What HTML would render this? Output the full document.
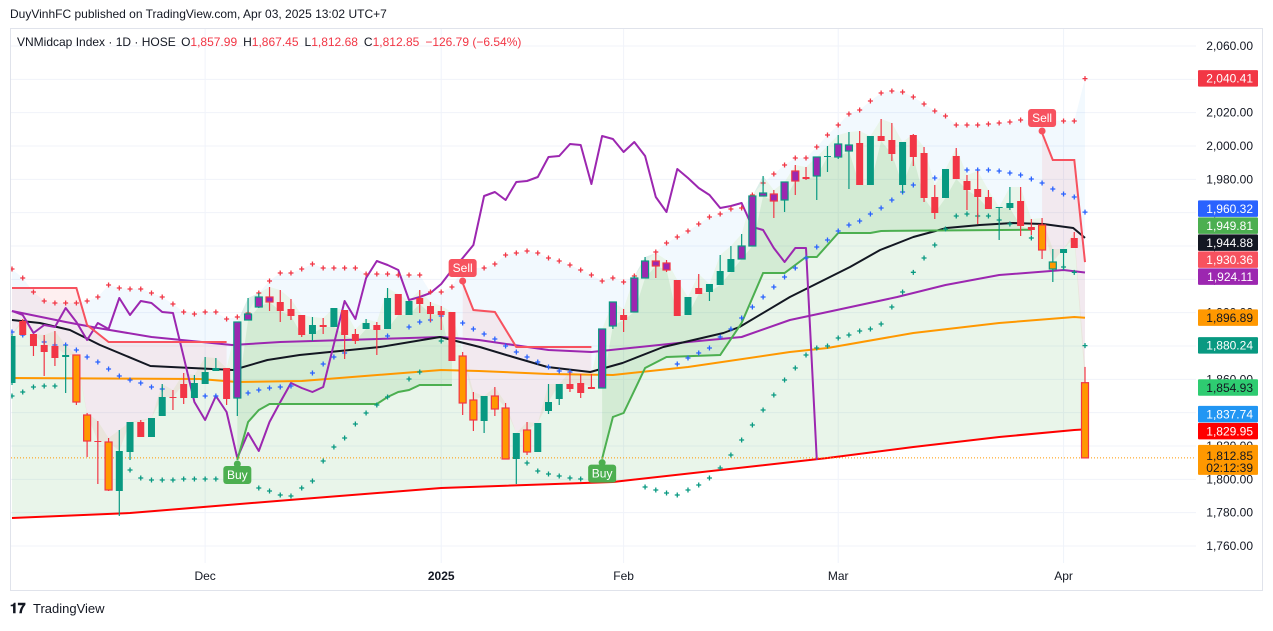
<!DOCTYPE html>
<html><head><meta charset="utf-8">
<style>
html,body{margin:0;padding:0;background:#fff;}
body{width:1273px;height:626px;overflow:hidden;font-family:"Liberation Sans",sans-serif;}
svg text{font-family:"Liberation Sans",sans-serif;}
</style></head>
<body>
<svg id="chart" width="1273" height="626" viewBox="0 0 1273 626" xmlns="http://www.w3.org/2000/svg">
  <text x="10" y="18" font-size="12" fill="#131722">DuyVinhFC published on TradingView.com, Apr 03, 2025 13:02 UTC+7</text>
  <rect x="10.5" y="28.5" width="1252" height="562" fill="#fff" stroke="#e0e3eb"/>
  <defs><clipPath id="pane"><rect x="11" y="29" width="1185" height="534"/></clipPath></defs>
  <g id="grid"></g>
  <g id="plot" clip-path="url(#pane)"></g>
  <g id="axis"></g>
  <g id="taxis"></g>
  <text x="17" y="46" font-size="12" fill="#131722">VNMidcap Index · 1D · HOSE <tspan dx="2">O</tspan><tspan fill="#f23645">1,857.99</tspan><tspan dx="6">H</tspan><tspan fill="#f23645">1,867.45</tspan><tspan dx="6">L</tspan><tspan fill="#f23645">1,812.68</tspan><tspan dx="6">C</tspan><tspan fill="#f23645">1,812.85</tspan><tspan dx="6" fill="#f23645">−126.79 (−6.54%)</tspan></text>
  <g>
    <text x="10" y="613" font-size="14" font-weight="bold" fill="#131722">𝟏𝟕</text>
    <text x="33" y="613" font-size="13" fill="#131722">TradingView</text>
  </g>
</svg>
<script>
const opens=[1857.8,1895.0,1887.2,1880.6,1880.0,1873.4,1874.6,1838.6,1823.0,1822.4,1793.0,1816.4,1834.4,1825.4,1838.0,1849.4,1857.2,1848.8,1857.2,1865.0,1866.8,1848.8,1895.6,1903.4,1909.4,1906.4,1902.2,1898.6,1887.2,1892.6,1891.4,1901.6,1887.2,1890.2,1892.6,1890.2,1911.2,1898.6,1908.8,1904.0,1901.0,1900.4,1874.0,1847.6,1835.0,1850.0,1842.8,1812.2,1829.6,1816.4,1841.0,1848.2,1857.2,1857.8,1855.4,1854.8,1892.0,1898.6,1900.4,1920.8,1931.0,1929.8,1919.6,1898.6,1914.8,1912.4,1916.6,1924.4,1932.2,1940.0,1970.0,1971.2,1967.6,1985.0,1981.4,1982.0,1993.4,1993.4,1997.0,2001.8,1976.6,2006.0,2003.6,1976.6,2006.6,1995.8,1969.4,1968.8,1994.0,1979.0,1974.2,1969.4,1962.8,1962.8,1967.0,1951.4,1952.6,1926.2,1935.8,1944.8,1857.99];
const highs=[1887.2,1896.2,1887.2,1886.6,1889.0,1880.6,1874.6,1839.8,1835.0,1824.8,1829.6,1834.4,1835.6,1836.8,1857.2,1853.6,1863.8,1862.6,1873.4,1872.8,1866.8,1894.4,1908.8,1911.8,1915.4,1913.6,1908.2,1898.6,1897.4,1896.8,1902.8,1901.6,1890.2,1896.2,1894.4,1914.8,1911.2,1907.0,1913.6,1906.4,1904.0,1900.4,1876.4,1852.4,1850.0,1855.4,1845.8,1827.8,1834.4,1833.8,1857.2,1857.2,1864.4,1863.2,1863.2,1890.2,1906.4,1902.2,1922.0,1933.4,1935.8,1931.6,1919.6,1909.4,1923.2,1917.2,1934.6,1940.0,1947.2,1970.0,1982.0,1973.6,1978.4,1988.6,1987.4,1993.4,2000.0,2006.6,2008.4,2009.0,2006.0,2016.2,2013.8,2002.4,2007.2,1999.4,1976.6,1986.2,1998.8,1982.6,1985.0,1973.6,1963.4,1975.4,1975.4,1956.2,1956.8,1938.2,1938.2,1948.4,1867.45];
const lows=[1856.6,1886.6,1874.0,1862.0,1868.0,1851.8,1844.6,1813.4,1797.2,1793.0,1778.0,1811.6,1825.4,1825.4,1838.0,1841.6,1845.2,1848.8,1857.2,1865.0,1844.6,1838.0,1895.6,1902.8,1901.0,1894.4,1895.6,1885.4,1883.0,1887.2,1891.4,1872.2,1881.2,1890.2,1874.6,1890.2,1898.6,1898.6,1899.8,1894.4,1889.6,1871.0,1838.6,1829.0,1827.8,1838.0,1812.2,1797.2,1814.6,1816.4,1839.2,1844.6,1852.4,1848.8,1854.2,1854.8,1890.2,1888.4,1900.4,1920.8,1920.8,1924.4,1898.0,1898.6,1911.2,1907.0,1916.6,1924.4,1932.2,1940.0,1970.0,1956.8,1960.4,1970.6,1979.6,1967.6,1984.4,1992.2,1974.2,1976.6,1976.6,2003.0,1991.0,1971.8,1988.0,1966.4,1956.2,1968.8,1980.2,1961.6,1953.2,1962.2,1943.6,1961.6,1946.0,1946.6,1932.2,1918.4,1925.6,1938.8,1812.68];
const closes=[1886.0,1886.6,1880.0,1876.4,1872.8,1874.6,1846.4,1823.0,1822.4,1793.6,1817.0,1834.4,1825.4,1836.8,1849.4,1848.8,1848.8,1857.8,1864.4,1866.8,1848.2,1894.4,1899.2,1909.4,1906.4,1901.0,1898.0,1886.6,1892.6,1891.4,1902.8,1886.6,1883.0,1893.8,1889.6,1908.8,1898.6,1907.0,1905.2,1899.2,1898.6,1871.0,1845.8,1835.6,1850.0,1842.2,1812.2,1827.8,1816.4,1833.8,1846.4,1857.2,1854.2,1851.8,1854.2,1890.2,1906.4,1895.6,1920.8,1931.0,1928.0,1925.6,1898.0,1909.4,1911.2,1917.2,1925.0,1932.2,1940.0,1970.0,1971.8,1967.0,1978.4,1979.0,1980.2,1993.4,1994.0,2001.2,2000.6,1976.6,2006.0,2003.0,1995.2,2002.4,1993.4,1968.8,1959.8,1986.2,1980.2,1973.6,1969.4,1962.2,1963.4,1965.8,1952.0,1949.6,1937.6,1930.4,1938.2,1938.8,1812.85];
const barTypes=("grrrrgooro"+"ggrggrrggg"+"rpppprrrgr"+"grrgrgrgrr"+"rroogoogog"+"ggrrrpprpp"+"pprgrgggpp"+"pppprpgppr"+"grrgrrrgrr"+"rrggrroogr"+"o").split("");

const ma200Idx=[0,11,27,40,56,76,84,92,99,100];
const ma200Val=[1776.8,1779.8,1788.2,1794.8,1798.4,1812.8,1819.4,1825.4,1829.6,1829.95];
const ma100Idx=[0,17.5,21,27,40,43.5,50,56,63,72.5,76,84,92,99,100];
const ma100Val=[1860.8,1860.2,1858.4,1859.0,1865.6,1865.0,1863.2,1862.6,1867.4,1876.4,1878.8,1887.8,1893.8,1897.4,1896.89];
const ma50Idx=[0,5,8,13,20.5,25,40,43.5,50,54,63,68,72.5,76,82.5,87,92,98,100];
const ma50Val=[1901.0,1894.4,1890.8,1885.4,1880.6,1882.4,1885.4,1883.6,1877.6,1876.4,1882.4,1885.4,1895.6,1900.4,1909.4,1916.6,1922.6,1925.6,1924.11];
const ma20Idx=[0,2.6,5.4,8.2,12.9,20.6,23.8,26.8,34.3,39.9,43.6,46.7,49.9,53.9,56.9,60.7,66.3,67.8,72.5,78.1,80.9,84,87.1,90.2,93.3,96.1,98.9,100];
const ma20Val=[1895.6,1893.8,1889.6,1880.6,1868.0,1865.6,1871.6,1874.6,1879.4,1885.4,1879.4,1873.4,1867.4,1864.4,1869.8,1879.4,1887.8,1891.4,1909.4,1927.4,1937.6,1945.4,1950.8,1952.6,1953.8,1953.2,1950.8,1944.88];
const oscVal=[1901.0,1898.6,1887.8,1892.6,1891.4,1902.8,1894.4,1883.6,1893.8,1890.2,1908.8,1898.6,1907.0,1905.8,1900.4,1899.8,1873.4,1846.4,1835.6,1850.0,1840.4,1812.8,1827.8,1817.0,1834.4,1846.4,1857.8,1854.8,1852.4,1855.4,1881.2,1907.0,1896.2,1920.8,1931.0,1928.6,1925.6,1907.6,1909.4,1911.8,1917.2,1925.6,1932.8,1940.6,1970.0,1972.4,1967.6,1978.4,1979.0,1981.4,1993.4,1994.0,2001.2,2000.6,1977.2,2006.0,2004.2,1996.4,2002.4,1994.0,1969.4,1960.4,1986.2,1980.8,1974.8,1970.6,1962.8,1964.0,1965.8,1951.4,1949.6,1938.8,1930.4,1938.8,1938.8,1811.6];
const stDownSegs=[{idx:[0,6,7,9,20],val:[1914.8,1914.8,1892.6,1882.4,1882.4]},{idx:[42,43,45,47,54],val:[1917.8,1901.6,1900.4,1879.4,1879.4]},{idx:[96,97,99,100],val:[2007.8,1991.6,1991.6,1930.36]}];
const stUpSegs=[{idx:[21,22,23,24,34,35,36,37,38,41],val:[1811.6,1834.4,1841.6,1845.2,1845.2,1849.4,1852.4,1853.6,1856.6,1856.6]},{idx:[55,56,57,59,61,66,68,70,72,74,75,77,80,81,95],val:[1812.4,1837.4,1839.8,1866.8,1873.4,1874.6,1893.8,1923.8,1923.8,1933.4,1933.4,1947.8,1947.8,1949.0,1949.81]}];
const sarUpper=[1926.2,1920.8,1912.4,1907.0,1905.8,1905.8,1905.8,1907.0,1909.4,1916.6,1914.8,1914.2,1914.2,1911.8,1909.4,1905.2,1900.4,1899.2,1900.4,1900.4,1896.2,1897.4,1899.8,1911.8,1919.0,1923.8,1923.8,1926.2,1929.2,1926.8,1926.8,1926.8,1926.8,1923.2,1923.2,1923.2,1922.6,1922.6,1922.6,1912.4,1912.4,1915.4,null,null,1926.8,1929.2,1934.6,1935.8,1937.0,1935.8,1932.8,1931.0,1928.6,1925.6,1922.6,1919.0,1920.8,1918.4,1922.0,1930.4,1936.4,1941.8,1945.4,1949.0,1953.2,1957.4,1959.2,1962.2,1962.8,1970.6,1977.8,1983.2,1988.6,1992.8,1992.8,1999.4,2006.6,2012.6,2019.2,2021.6,2027.0,2031.8,2033.0,2032.4,2029.4,2025.2,2021.0,2018.0,2012.6,2012.6,2012.6,2013.2,2013.8,2014.4,2015.6,null,null,null,2015.0,2015.0,2040.41];
const blueIdx=[0,1,3,4,5,6,7,8,9,10,11,12,13,14,18,19,22,23,24,25,26,28,29,30,31,35,37,38,39,40,42,43,44,45,46,47,48,49,50,51,52,62,63,64,65,66,67,68,69,70,71,72,73,74,75,76,77,78,79,80,81,82,83,84,85,86,87,88,89,90,91,92,93,94,95,96,97,98,99,100];
const blueVal=[1888.4,1886.6,1882.4,1880.6,1880.6,1877.6,1873.4,1870.4,1866.2,1862.0,1859.6,1857.8,1855.4,1854.2,1850.0,1850.0,1851.8,1853.6,1854.8,1855.4,1856.0,1863.8,1869.2,1873.4,1875.8,1886.0,1891.4,1894.4,1895.6,1898.0,1893.8,1890.2,1887.2,1884.2,1880.0,1876.4,1873.4,1870.4,1867.4,1865.0,1864.4,1869.2,1872.8,1875.8,1878.8,1885.4,1890.2,1896.8,1903.4,1909.4,1915.4,1921.4,1926.8,1932.8,1939.4,1943.6,1949.0,1952.6,1955.0,1959.2,1962.8,1967.6,1972.4,1976.6,1979.0,1980.8,1982.6,1984.4,1985.6,1985.6,1985.6,1985.0,1983.8,1982.6,1980.2,1977.8,1974.2,1971.2,1969.4,1960.32];
const tealIdx=[0,1,2,3,4,11,12,13,14,15,16,17,18,19,23,24,25,26,27,28,29,30,31,32,33,34,35,37,38,40,48,49,50,51,52,53,59,60,61,62,63,64,65,66,67,68,69,70,71,72,73,74,75,76,77,78,79,80,81,82,83,84,85,86,87,88,89,90,91,92,93,95,98,99,100];
const tealVal=[1850.0,1852.4,1855.4,1856.0,1856.0,1805.6,1800.8,1799.6,1799.6,1799.6,1800.2,1800.2,1800.2,1800.2,1794.8,1793.0,1790.6,1790.0,1794.8,1799.0,1811.0,1819.4,1824.8,1833.2,1839.8,1844.6,1849.4,1860.2,1864.4,1883.0,1809.8,1805.0,1803.2,1802.0,1800.8,1800.2,1795.4,1793.6,1791.8,1790.6,1793.6,1796.6,1800.8,1806.8,1814.6,1823.6,1832.6,1841.6,1850.6,1859.6,1866.8,1874.6,1878.8,1880.0,1884.8,1886.6,1889.0,1890.2,1893.2,1903.4,1912.4,1924.2,1932.8,1940.6,1950.2,1958.0,1959.2,1958.0,1958.0,1955.6,1953.2,1944.8,1927.4,1924.2,1880.24];
const priceTicks=[2060,2040,2020,2000,1980,1960,1940,1920,1900,1880,1860,1840,1820,1800,1780,1760];
const timeLabels=["Dec","2025","Feb","Mar","Apr"];
const timeIdx=[18,40,57,77,98];
const lastLabels=[2040.41,1960.32,1949.81,1944.88,1930.36,1924.11,1896.89,1880.24,1854.93,1837.74,1829.95];
const lastLabelColors=["#f23645","#2962ff","#4caf50","#131722","#f7525f","#9c27b0","#ff9800","#089981","#2ecc71","#2196f3","#ff0000"];
const lastPrice=1812.85;
const countdown="02:12:39";

const NS="http://www.w3.org/2000/svg";
const X0=12, DX=10.73, PTOP=2060, PBOT=1760, YTOP=46, YBOT=546;
function xs(i){return X0+i*DX;}
function ys(p){return YTOP+(PTOP-p)*(YBOT-YTOP)/(PTOP-PBOT);}
function el(tag,attrs,parent){const e=document.createElementNS(NS,tag);for(const k in attrs)e.setAttribute(k,attrs[k]);parent.appendChild(e);return e;}
function fmt(v){return v.toLocaleString("en-US",{minimumFractionDigits:2,maximumFractionDigits:2});}
const grid=document.getElementById("grid"), plot=document.getElementById("plot"), axis=document.getElementById("axis"), taxis=document.getElementById("taxis");

// grid
priceTicks.forEach(p=>{
  const l=el("line",{x1:11,x2:1196,y1:ys(p),y2:ys(p),stroke:"#f0f3fa","stroke-width":1},grid);
  
  
});
timeIdx.forEach(i=>{
  const l=el("line",{x1:xs(i),x2:xs(i),y1:29,y2:563,stroke:"#f0f3fa","stroke-width":1},grid);
  
  
});

function pathOf(idx,val){return idx.map((i,k)=>(k?"L":"M")+xs(i).toFixed(1)+","+ys(val[k]).toFixed(1)).join("");}
const N=closes.length;
const allIdx=[...Array(N).keys()];

// fills: blue above price (under SAR), pale green below price (to ma200)
let sarFilled=sarUpper.slice();
for(let i=0;i<N;i++){if(sarFilled[i]==null){let j=i;while(j<N&&sarFilled[j]==null)j++;sarFilled[i]=j<N?Math.max(sarFilled[i-1],sarFilled[j]):sarFilled[i-1];}}
let d="M"+xs(0)+","+ys(sarFilled[0]);
for(let i=1;i<N;i++)d+="L"+xs(i)+","+ys(sarFilled[i]);
for(let i=N-1;i>=0;i--)d+="L"+xs(i)+","+ys(highs[i]);
const fb=el("path",{d:d+"Z",fill:"rgba(33,150,243,0.06)"},plot);


function interp(idx,val,i){for(let k=0;k<idx.length-1;k++){if(i>=idx[k]&&i<=idx[k+1]){const t=(i-idx[k])/(idx[k+1]-idx[k]);return val[k]+t*(val[k+1]-val[k]);}}return i<idx[0]?val[0]:val[val.length-1];}
d="M"+xs(0)+","+ys(highs[0]);
for(let i=1;i<N;i++)d+="L"+xs(i)+","+ys(highs[i]);
for(let i=N-1;i>=0;i--)d+="L"+xs(i)+","+ys(interp(ma200Idx,ma200Val,i));
const fg=el("path",{d:d+"Z",fill:"rgba(76,175,80,0.12)"},plot);



// supertrend fills
stDownSegs.forEach(s=>{
  let dd=pathOf(s.idx,s.val);
  for(let i=s.idx[s.idx.length-1];i>=s.idx[0];i--)dd+="L"+xs(i)+","+ys(Math.max(opens[i],closes[i]));
  const f=el("path",{d:dd+"Z",fill:"rgba(242,54,69,0.08)"},plot);
  
  
});
stUpSegs.forEach(s=>{
  let dd=pathOf(s.idx,s.val);
  for(let i=s.idx[s.idx.length-1];i>=s.idx[0];i--)dd+="L"+xs(i)+","+ys(Math.min(opens[i],closes[i]));
  const f=el("path",{d:dd+"Z",fill:"rgba(76,175,80,0.14)"},plot);
  
  
});

// moving averages
[[ma200Idx,ma200Val,"#ff0000",2,"ma200-line"],[ma100Idx,ma100Val,"#ff9800",2,"ma100-line"],[ma50Idx,ma50Val,"#9c27b0",2,"ma50-line"],[ma20Idx,ma20Val,"#131722",2,"ma20-line"]].forEach(m=>{
  const p=el("path",{d:pathOf(m[0],m[1]),fill:"none",stroke:m[2],"stroke-width":m[3],"stroke-linejoin":"round"},plot);
  
  
});
// oscillator zigzag line
const op=el("path",{d:pathOf(oscVal.map((v,i)=>i),oscVal),fill:"none",stroke:"#9c27b0","stroke-width":2,"stroke-linejoin":"round"},plot);


// supertrend lines
stDownSegs.forEach(s=>{
  const p=el("path",{d:pathOf(s.idx,s.val),fill:"none",stroke:"#f7525f","stroke-width":2},plot);
  
  
});
stUpSegs.forEach(s=>{
  const p=el("path",{d:pathOf(s.idx,s.val),fill:"none",stroke:"#4caf50","stroke-width":2},plot);
  
  
});

// dots
function cross(x,y,c,name){
  const g=el("path",{d:`M${x-2.5},${y}h5M${x},${y-2.5}v5`,stroke:c,"stroke-width":1.3},plot);
  
  
}
sarUpper.forEach((v,i)=>{if(v!=null)cross(xs(i),ys(v),"#f23645","sar-dot-upper");});
blueIdx.forEach((i,k)=>cross(xs(i),ys(blueVal[k]),"#2962ff","sar-dot-mid"));
tealIdx.forEach((i,k)=>cross(xs(i),ys(tealVal[k]),"#089981","sar-dot-lower"));

// last price dotted line
const lp=el("line",{x1:11,x2:1196,y1:ys(lastPrice),y2:ys(lastPrice),stroke:"#ff9800","stroke-width":1,"stroke-dasharray":"1 2"},plot);



// candles
for(let i=0;i<N;i++){
  const o=opens[i],c=closes[i],up=c>=o,t=barTypes[i];
  const edge=up?"#089981":"#f23645";
  let fill=edge; if(t==="o")fill="#ff9800"; if(t==="p")fill="#9c27b0";
  const x=xs(i);
  const w=el("line",{x1:x,x2:x,y1:ys(highs[i]),y2:ys(lows[i]),stroke:edge,"stroke-width":1.2},plot);
  
  
  const top=ys(Math.max(o,c)), bot=ys(Math.min(o,c));
  const b=el("rect",{x:x-3.5,y:top,width:7,height:Math.max(1,bot-top),fill:fill,stroke:edge,"stroke-width":(t==="o"||t==="p")?1.2:0},plot);
  
  
}

// buy / sell markers
function marker(i,p,txt,color,below){
  const x=xs(i),y=ys(p);
  const g=el("g",{},plot);
  
  
  const by=below?y+6:y-24;
  el("circle",{cx:x,cy:below?y+4:y-2,r:3.5,fill:color},g);
  el("rect",{x:x-14,y:by,width:28,height:18,rx:3,fill:color},g);
  const t=el("text",{x:x,y:by+13,"font-size":12,fill:"#fff","text-anchor":"middle"},g);
  t.textContent=txt;
}
stUpSegs.forEach(s=>marker(s.idx[0],s.val[0],"Buy","#4caf50",true));
stDownSegs.slice(1).forEach(s=>marker(s.idx[0],s.val[0],"Sell","#f7525f",false));

// price axis
priceTicks.forEach(p=>{
  const t=el("text",{x:1253,y:ys(p)+4,"font-size":12,fill:"#131722","text-anchor":"end"},axis);
  
  
  t.textContent=fmt(p);
});
// last value labels with collision layout
const H=17;
let items=lastLabels.map((v,k)=>({v,c:lastLabelColors[k],y:ys(v)})).sort((a,b)=>a.y-b.y);
let groups=items.map(it=>({items:[it],mean:it.y}));
let changed=true;
while(changed){changed=false;
  for(let g=0;g<groups.length-1;g++){
    const A=groups[g],B=groups[g+1];
    const aBot=A.mean+A.items.length*H/2, bTop=B.mean-B.items.length*H/2;
    if(aBot>bTop){const its=A.items.concat(B.items);groups.splice(g,2,{items:its,mean:its.reduce((s,x)=>s+x.y,0)/its.length});changed=true;break;}
  }
}
groups.forEach(G=>{G.items.forEach((it,k)=>{it.py=G.mean-G.items.length*H/2+k*H+H/2;});});
items.forEach(it=>{
  const g=el("g",{},axis);
  
  
  el("rect",{x:1198,y:it.py-H/2,width:60,height:H-0.5,rx:1,fill:it.c},g);
  const dark=(it.c==="#ff9800"||it.c==="#2ecc71");
  const t=el("text",{x:1253,y:it.py+4,"font-size":12,fill:dark?"#131722":"#fff","text-anchor":"end"},g);
  t.textContent=fmt(it.v);
});
const lg=el("g",{},axis);


const ly=ys(lastPrice);
el("rect",{x:1198,y:ly-13,width:60,height:30,rx:1,fill:"#ff9800"},lg);
const lt1=el("text",{x:1253,y:ly+2,"font-size":12,fill:"#131722","text-anchor":"end"},lg);
lt1.textContent=fmt(lastPrice);
const lt2=el("text",{x:1253,y:ly+14,"font-size":12,fill:"#131722","text-anchor":"end"},lg);
lt2.textContent=countdown;

// time axis
timeLabels.forEach((s,k)=>{
  const t=el("text",{x:xs(timeIdx[k]),y:580,"font-size":12,fill:"#131722","text-anchor":"middle","font-weight":s==="2025"?"bold":"normal"},taxis);
  
  
  t.textContent=s;
});
</script>
</body></html>
